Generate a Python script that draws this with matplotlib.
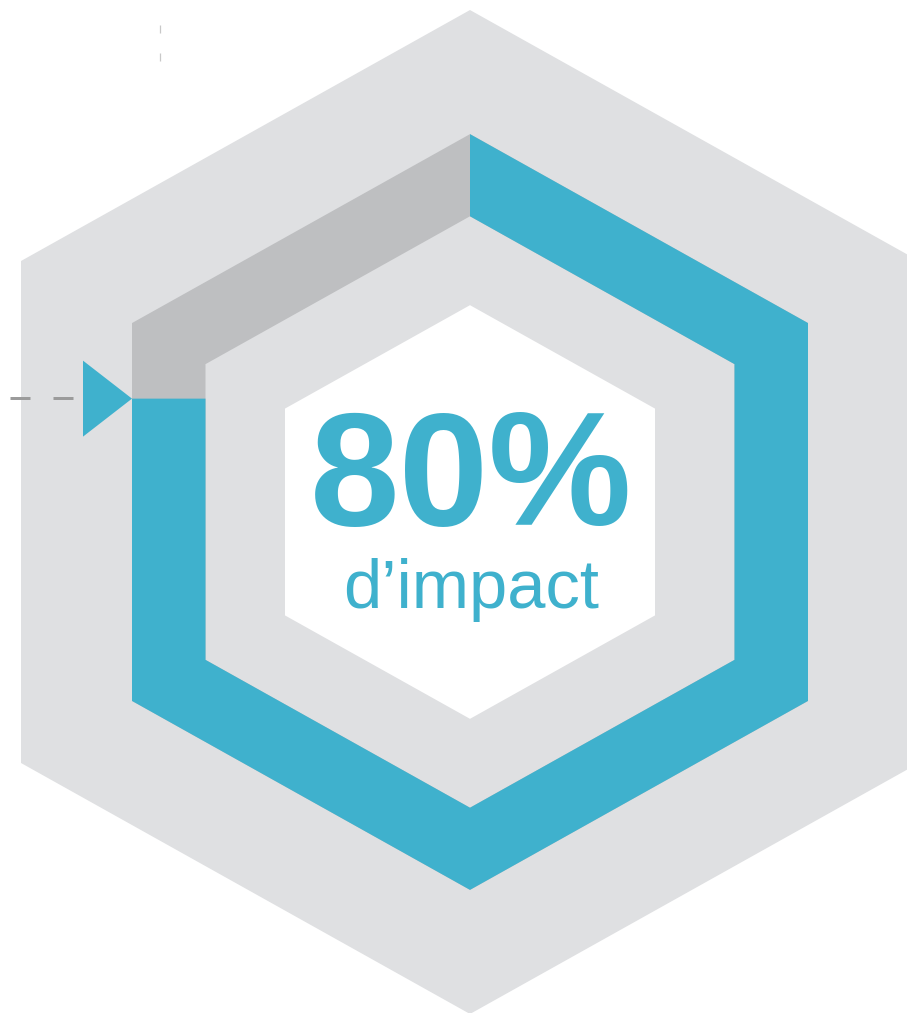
import matplotlib
matplotlib.use("Agg")
import matplotlib.pyplot as plt
from matplotlib.patches import Polygon
import numpy as np

# ---- data ----
percent = [80]
big_label = ["80%"]
sub_label = ["d\u2019impact"]

# ---- style ----
BLUE = "#3FB1CD"
RING_GRAY = "#BEBFC1"
LIGHT = "#DFE0E2"
WHITE = "#FFFFFF"
DASH = "#9B9B9B"

W, H = 907, 1013
fig = plt.figure(figsize=(W / 100, H / 100), dpi=100)
ax = fig.add_axes([0, 0, 1, 1])
ax.set_xlim(0, W)
ax.set_ylim(H, 0)
ax.axis("off")

cx, cy = 470, 512
ASPECT = 1.118  # half-height / half-width


def hexagon(hw):
    hh = hw * ASPECT
    # clockwise (screen) from top vertex
    return np.array([
        [cx, cy - hh],
        [cx + hw, cy - hh / 2],
        [cx + hw, cy + hh / 2],
        [cx, cy + hh],
        [cx - hw, cy + hh / 2],
        [cx - hw, cy - hh / 2],
    ])


bg = hexagon(449)
ring_out = hexagon(338)
ring_in = hexagon(264.5)
inner_white = hexagon(185)

ax.add_patch(Polygon(bg, closed=True, fc=LIGHT, ec="none"))
ax.add_patch(Polygon(ring_out, closed=True, fc=RING_GRAY, ec="none"))
ax.add_patch(Polygon(ring_in, closed=True, fc=LIGHT, ec="none"))

# progress along perimeter
t = percent[0] / 100.0
seg = t * 6
k = int(np.floor(seg))
f = seg - k
p0, p1 = ring_out[k], ring_out[(k + 1) % 6]
split_out = p0 + f * (p1 - p0)
# horizontal cut across the band on the same side
q0, q1 = ring_in[k], ring_in[(k + 1) % 6]
if abs(q1[1] - q0[1]) > 1e-9:
    fi = (split_out[1] - q0[1]) / (q1[1] - q0[1])
else:
    fi = f
split_in = q0 + fi * (q1 - q0)

blue_pts = [ring_out[i] for i in range(k + 1)] + [split_out, split_in] + \
           [ring_in[i] for i in range(k, -1, -1)]
ax.add_patch(Polygon(np.array(blue_pts), closed=True, fc=BLUE, ec="none"))

ax.add_patch(Polygon(inner_white, closed=True, fc=WHITE, ec="none"))

# marker triangle pointing at the split
tri_len, tri_half = 49, 38
tip = split_out
ax.add_patch(Polygon([[tip[0] - tri_len, tip[1] - tri_half],
                      [tip[0] - tri_len, tip[1] + tri_half],
                      [tip[0], tip[1]]], closed=True, fc=BLUE, ec="none"))

# dashed leader line
px = 0.72
ax.plot([10, tip[0] - tri_len - 2], [tip[1] - 1, tip[1] - 1], color=DASH,
        lw=3 * px, dashes=(20 / 2.16 * px, 23 / 2.16 * px),
        solid_capstyle="butt", dash_capstyle="butt")

# faint vertical dashes top-left
ax.plot([160, 160], [25, 62], color="#C8C8C8", lw=0.9,
        dashes=(8 / 0.9 * px, 20 / 0.9 * px), dash_capstyle="butt")

# text
ax.text(cx + 1, 525, big_label[0], color=BLUE, fontsize=116,
        fontweight="bold", family=["Liberation Sans", "DejaVu Sans"],
        ha="center", va="baseline")
ax.text(cx + 1, 608, sub_label[0], color=BLUE, fontsize=49.5,
        family=["Liberation Sans", "DejaVu Sans"],
        ha="center", va="baseline")

fig.savefig("out.png", dpi=100, facecolor="white")
